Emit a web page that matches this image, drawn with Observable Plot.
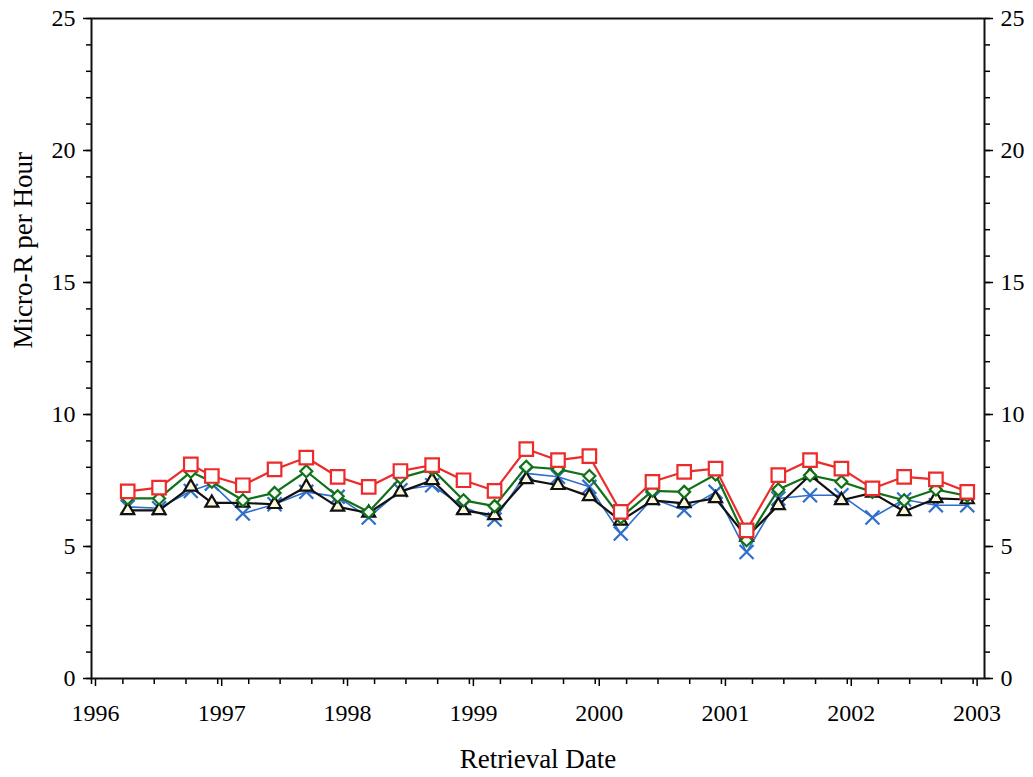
<!DOCTYPE html>
<html>
<head>
<meta charset="utf-8">
<script src="https://cdn.jsdelivr.net/npm/d3@7"></script>
<script src="https://cdn.jsdelivr.net/npm/@observablehq/plot@0.6"></script>
<style>
  html, body { margin: 0; padding: 0; background: #fff; }
  #chart { width: 1033px; height: 777px; }
</style>
</head>
<body>
<div id="chart"></div>
<script>
// Quarterly retrieval dates
const retrievalDates = [
  "1996-04-15", "1996-07-15", "1996-10-15", "1996-12-15",
  "1997-03-15", "1997-06-15", "1997-09-15", "1997-12-15",
  "1998-03-15", "1998-06-15", "1998-09-15", "1998-12-15",
  "1999-03-15", "1999-06-15", "1999-09-15", "1999-12-15",
  "2000-03-15", "2000-06-15", "2000-09-15", "2000-12-15",
  "2001-03-15", "2001-06-15", "2001-09-15", "2001-12-15",
  "2002-03-15", "2002-06-15", "2002-09-15", "2002-12-15"
];

// Exposure rate (micro-R per hour) for each dosimeter series
const seriesSquare = [7.09, 7.23, 8.11, 7.67, 7.32, 7.92, 8.37, 7.64, 7.26, 7.86, 8.08, 7.51, 7.11, 8.69,
                      8.27, 8.42, 6.31, 7.45, 7.83, 7.95, 5.61, 7.70, 8.27, 7.95, 7.20, 7.64, 7.54, 7.07];
const seriesDiamond = [6.82, 6.82, 7.83, 7.45, 6.75, 7.03, 7.85, 6.90, 6.31, 7.60, 7.93, 6.75, 6.53, 8.02,
                       7.93, 7.67, 6.10, 7.11, 7.07, 7.73, 5.24, 7.16, 7.70, 7.45, 7.07, 6.75, 7.16, 6.92];
const seriesCross = [6.50, 6.45, 7.10, 7.38, 6.25, 6.60, 7.07, 6.88, 6.10, 7.13, 7.32, 6.50, 6.02, 7.77,
                     7.64, 7.26, 5.49, 6.82, 6.37, 7.07, 4.79, 6.82, 6.94, 6.94, 6.10, 6.78, 6.56, 6.56];
const seriesTriangle = [6.37, 6.37, 7.26, 6.65, 6.65, 6.60, 7.26, 6.50, 6.27, 7.07, 7.51, 6.37, 6.18, 7.54,
                        7.32, 6.90, 5.97, 6.75, 6.63, 6.82, 5.36, 6.56, 7.70, 6.75, 7.03, 6.33, 6.82, 6.78];

// Axis ticks and titles
const yMajorTicks = [0, 5, 10, 15, 20, 25];
const yMinorTicks = d3.range(0, 26, 1);
const yearTicks = ["1996", "1997", "1998", "1999", "2000", "2001", "2002", "2003"];
const yTitle = "Micro-R per Hour";
const xTitle = "Retrieval Date";

const parse = d3.utcParse("%Y-%m-%d");
const dates = retrievalDates.map(parse);
const years = yearTicks.map(y => parse(y + "-01-01"));
const quarterTicks = d3.utcMonth.every(3).range(parse("1996-01-01"), parse("2003-01-02"));

const rows = (values) => values.map((v, i) => ({date: dates[i], value: v}));

const series = [
  {data: rows(seriesCross), color: "#2f6fcb", symbol: "times", r: 6.4, lineWidth: 1.6, fill: "none"},
  {data: rows(seriesTriangle), color: "#111111", symbol: "triangle2", r: 6.2, lineWidth: 2.2, fill: "#fdf8dc"},
  {data: rows(seriesDiamond), color: "#12701a", symbol: "diamond2", r: 5.4, lineWidth: 2.2, fill: "#f4fbf0"},
  {data: rows(seriesSquare), color: "#ec2b2b", symbol: "square2", r: 8.6, lineWidth: 2.2, fill: "#ffffff"}
];

const seriesMarks = series.flatMap(s => [
  Plot.line(s.data, {x: "date", y: "value", stroke: s.color, strokeWidth: s.lineWidth}),
  Plot.dot(s.data, {x: "date", y: "value", symbol: () => s.symbol, r: s.r,
                    stroke: s.color, strokeWidth: 2.2, fill: s.fill})
]);

const chart = Plot.plot({
  width: 1033,
  height: 777,
  marginLeft: 91,
  marginRight: 49,
  marginTop: 18,
  marginBottom: 99,
  style: {fontFamily: "'Liberation Serif', 'DejaVu Serif', serif", fontSize: "24px", color: "#000", background: "#fff"},
  symbol: {type: "identity"},
  x: {type: "utc", domain: [parse("1996-01-01"), parse("2003-02-03")]},
  y: {domain: [0, 25]},
  marks: [
    Plot.axisY(yMinorTicks, {anchor: "left", tickSize: 5, tickFormat: () => "", strokeWidth: 1.5, label: null}),
    Plot.axisY(yMajorTicks, {anchor: "left", tickSize: 8, tickPadding: 8, strokeWidth: 1.5, fontSize: 24, label: null}),
    Plot.axisY(yMinorTicks, {anchor: "right", tickSize: 5, tickFormat: () => "", strokeWidth: 1.5, label: null}),
    Plot.axisY(yMajorTicks, {anchor: "right", tickSize: 8, tickPadding: 8, strokeWidth: 1.5, fontSize: 24, label: null}),
    Plot.axisX(quarterTicks, {anchor: "bottom", tickSize: 6, tickFormat: () => "", strokeWidth: 1.5, label: null}),
    Plot.axisX(years, {anchor: "bottom", tickSize: 8, tickPadding: 17, dx: 4, strokeWidth: 1.5, fontSize: 24,
                       tickFormat: d3.utcFormat("%Y"), label: null}),
    Plot.text([yTitle], {frameAnchor: "left", dx: -68, rotate: -90, fontSize: 27, fill: "#000"}),
    Plot.text([xTitle], {frameAnchor: "bottom", dy: 89, fontSize: 27, fill: "#000"}),
    Plot.frame({stroke: "#111", strokeWidth: 2}),
    ...seriesMarks
  ]
});

document.getElementById("chart").appendChild(chart);
</script>
</body>
</html>
